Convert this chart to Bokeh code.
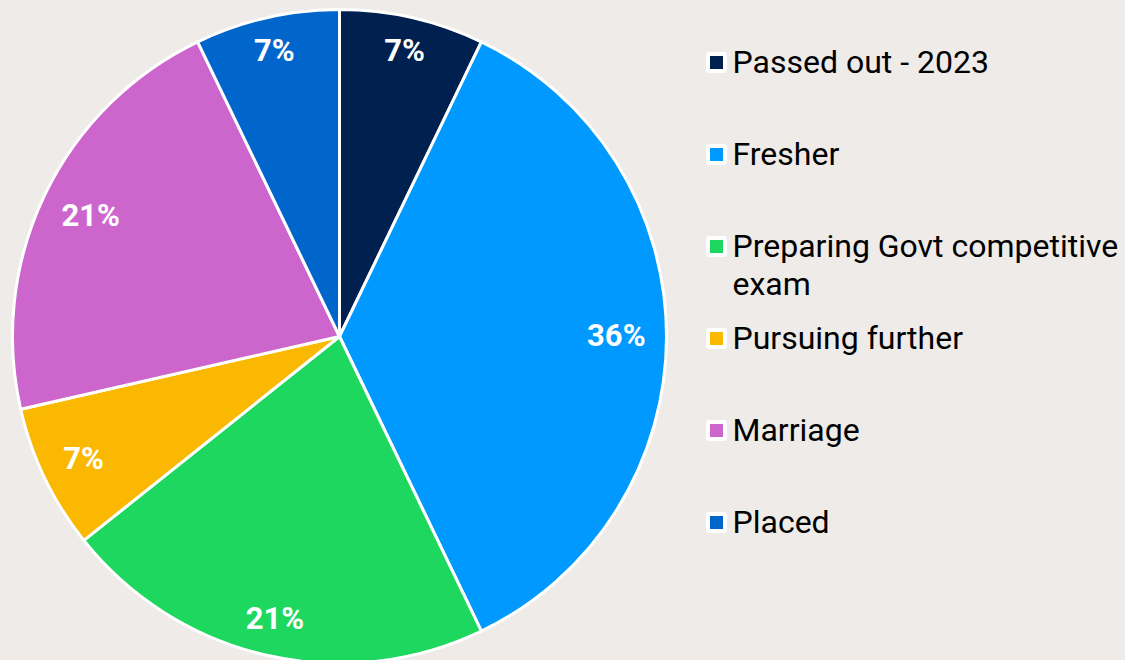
import math
import textwrap
import numpy as np
from bokeh.plotting import figure
from bokeh.models import ColumnDataSource, Range1d
from bokeh.core.properties import value
from bokeh.embed import file_html
from bokeh.resources import INLINE

# ---- data ----
categories = ["Passed out - 2023", "Fresher", "Preparing Govt competitive exam",
              "Pursuing further", "Marriage", "Placed"]
counts = [1, 5, 3, 1, 3, 1]
colors = ["#002050", "#0099FF", "#1DD75F", "#FBB800", "#CC66CC", "#0066CC"]

# ---- layout ----
W, H = 1125, 660
BG = "#EEEBE8"
CX, CY, R = 339, H - 336, 327
FONT = "Roboto"
LABEL_PX = 31
LEGEND_PX = 32

total = sum(counts)
frac = np.array(counts, dtype=float) / total
cum = np.concatenate([[0.0], np.cumsum(frac)])
start = np.pi / 2 - cum[:-1] * 2 * np.pi
end = np.pi / 2 - cum[1:] * 2 * np.pi

p = figure(width=W, height=H, output_backend="svg", toolbar_location=None,
           x_range=Range1d(0, W), y_range=Range1d(0, H), min_border=0)
p.axis.visible = False
p.grid.visible = False
p.outline_line_color = None
p.background_fill_color = BG
p.border_fill_color = BG

src = ColumnDataSource(dict(start=start, end=end, color=colors, cat=categories))
p.wedge(x=CX, y=CY, radius=R, radius_units="screen", start_angle="start", end_angle="end",
        direction="clock", fill_color="color", line_color="white", line_width=3, source=src)

# slice labels
pct = [f"{round(f * 100)}%" for f in frac]
def est_width(s, px):
    w = 0.0
    for ch in s:
        w += 0.735 if ch == "%" else 0.562
    return w * px

lx, ly = [], []
Rp = 0.935 * R
hh = 8.5
for i, t in enumerate(pct):
    mid = (start[i] + end[i]) / 2
    c, s = math.cos(mid), math.sin(mid)
    hw = est_width(t, LABEL_PX) / 2
    b = abs(c) * hw + abs(s) * hh
    cc = hw * hw + hh * hh - Rp * Rp
    d = -b + math.sqrt(b * b - cc)
    lx.append(CX + d * c)
    ly.append(CY + d * s + 1)

p.text(x=lx, y=ly, text=pct, text_color="white", text_font=value(FONT),
       text_font_style="bold", text_font_size=f"{LABEL_PX}px",
       text_align="center", text_baseline="middle")

# legend
row0, step, line_h = H - 62, 92, 38
mx, tx = 716, 732
my = [row0 - step * i for i in range(len(categories))]
p.rect(x=[mx] * len(categories), y=my, width=17, height=17, width_units="screen",
       height_units="screen", fill_color=colors, line_color="white", line_width=4)
txs, tys, tts = [], [], []
for i, cat in enumerate(categories):
    for j, line in enumerate(textwrap.wrap(cat, 26)):
        txs.append(tx)
        tys.append(my[i] - line_h * j + 1)
        tts.append(line)
p.text(x=txs, y=tys, text=tts, text_color="#000000", text_font=value(FONT),
       text_font_size=f"{LEGEND_PX}px", text_align="left", text_baseline="middle")

html = file_html(p, INLINE)
html = html.replace("</head>", "<style>html,body{margin:0;padding:0;background:" + BG +
                    ";overflow:hidden}</style></head>", 1)
open("out.html", "w").write(html)
